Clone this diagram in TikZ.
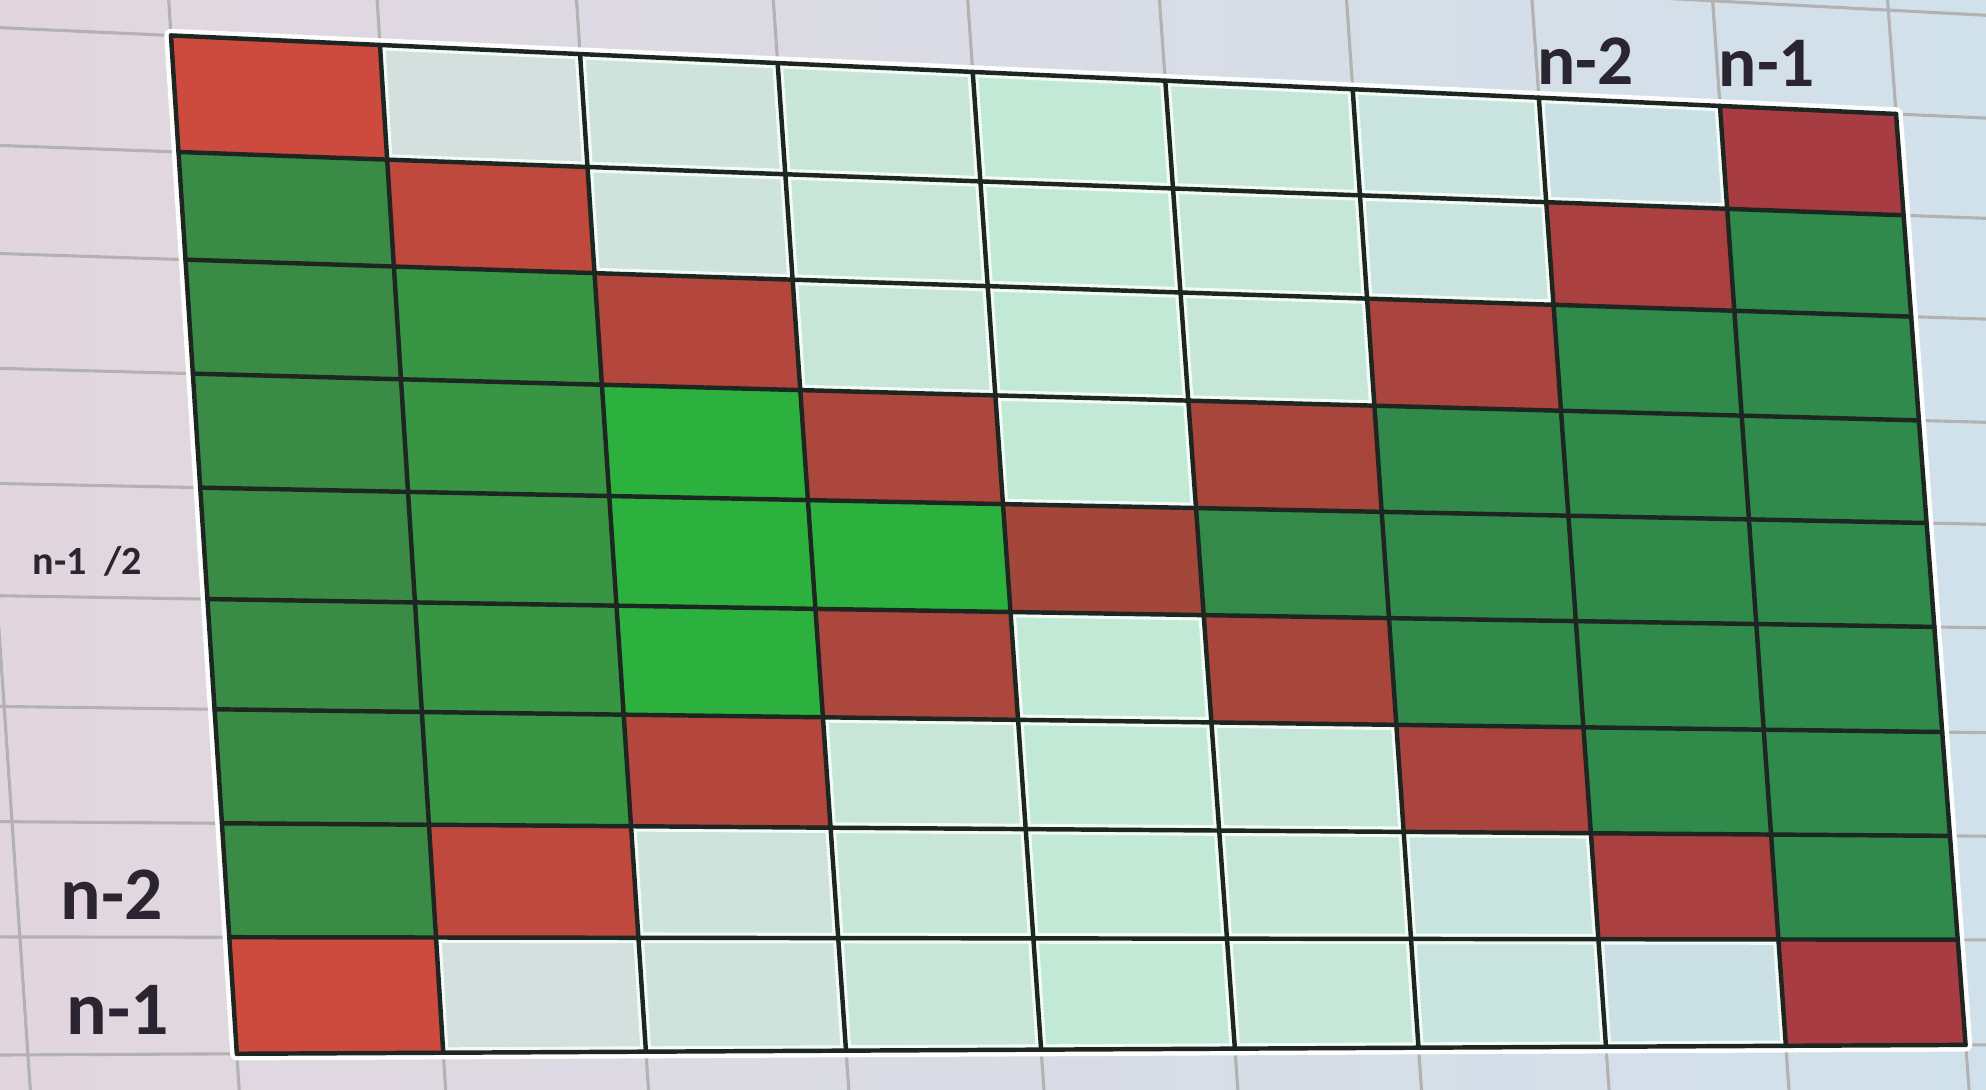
\documentclass[tikz,border=0pt]{standalone}
\usepackage{fontspec}
\setmainfont{Carlito}
\usetikzlibrary{calc}
\definecolor{rotl}{HTML}{CD4B3E}
\definecolor{rotm}{HTML}{A4473B}
\definecolor{rotr}{HTML}{A73D42}
\definecolor{gruenl}{HTML}{3A8B45}
\definecolor{gruenr}{HTML}{2F8A4B}
\definecolor{gruenh}{HTML}{2CB13E}
\definecolor{helll}{HTML}{DCDEDD}
\definecolor{hellm}{HTML}{C2E9D6}
\definecolor{hellr}{HTML}{CBDCEC}
\definecolor{grundl}{HTML}{E2D6DE}
\definecolor{grundm}{HTML}{D2ECE2}
\definecolor{grundr}{HTML}{D1E1EB}
\definecolor{linie}{HTML}{1E2622}
\definecolor{schrift}{HTML}{2A2530}
\tikzset{
  zelle0/.style 2 args={fill=hellr!#1!helll!#2!hellm},
  zelle1/.style 2 args={fill=rotr!#1!rotl!#2!rotm},
  zelle2/.style 2 args={fill=gruenr!#1!gruenl},
  zelle3/.style 2 args={fill=gruenh},
  zelle4/.style 2 args={fill=gruenh!25!gruenl},
  netz/.style={black!30,line width=0.7pt},
  gitter/.style={linie,line width=1pt,line cap=round},
  rand/.style={white,line width=3pt,line join=round},
  glanz/.style={white!80!hellm,line width=2.4pt},
  kopf/.style={schrift,font=\bfseries\fontsize{16}{16}\selectfont,inner sep=0pt},
  seite/.style={schrift,font=\bfseries\fontsize{17}{17}\selectfont,inner sep=0pt},
}
\newcommand\eckpunkt[2]{%
  \pgfcoordinate{p#1-#2}{\pgfpointintersectionoflines
    {\pgfpointanchor{ct#1}{center}}{\pgfpointanchor{cb#1}{center}}
    {\pgfpointanchor{rl#2}{center}}{\pgfpointanchor{rr#2}{center}}}}

\begin{document}
\begin{tikzpicture}[x=0.1mm,y=-0.1mm]
  \useasboundingbox (0,0) rectangle (1568,860);
  \shade[left color=grundl,middle color=grundm,right color=grundr] (0,0) rectangle (1568,860);
  % column and row lines of the sheet
  \foreach \i/\xt/\yt/\xb/\yb in {0/135/28/187/832, 1/300/35.5/350/831.2, 2/458/42.7/510/830.3,
      3/614/49.8/668/829.5, 4/768/56.8/822/828.7, 5/920/63.7/975/828, 6/1068/70.5/1120/827.2,
      7/1215/77.2/1268/826.5, 8/1358/83.7/1410/825.7, 9/1497/90/1552/825}{
    \coordinate (ct\i) at (\xt,\yt);
    \coordinate (cb\i) at (\xb,\yb);
  }
  \foreach \j/\xl/\yl/\xr/\yr in {0/135/28/1497/90, 1/141/120/1503/170, 2/146.4/205/1509/250,
      3/152.2/295/1515.1/332, 4/158/385/1521.2/413, 5/163.7/473/1527.3/495, 6/169.3/560/1533.5/578,
      7/175.1/650/1539.7/660, 8/180.9/740/1545.8/742, 9/187/832/1552/825}{
    \coordinate (rl\j) at (\xl,\yl);
    \coordinate (rr\j) at (\xr,\yr);
  }
  \coordinate (ctx) at (-33,26);  \coordinate (cbx) at (22,832);
  \coordinate (rlx) at (128,-64); \coordinate (rrx) at (1491,8);
  \begin{scope}
    \clip (0,0) rectangle (1568,860);
    \foreach \i in {x,0,1,2,3,4,5,6,7,8,9}
      \draw[netz] ($(ct\i)!-1!(cb\i)$) -- ($(ct\i)!2!(cb\i)$);
    \foreach \j in {x,0,1,2,3,4,5,6,7,8,9}
      \draw[netz] ($(rl\j)!-0.2!(rr\j)$) -- ($(rl\j)!1.2!(rr\j)$);
  \end{scope}
  % corners of the cells
  \foreach \i in {0,...,9}
    \foreach \j in {0,...,9}
      \eckpunkt{\i}{\j};
  \draw[rand] (p0-0) -- (p9-0) -- (p9-9) -- (p0-9) -- cycle;
  % 0 hell, 1 rot, 2 gruen, 3 hellgruen, 4 mittelgruen
  \foreach \zeile [count=\j from 0] in {{1,0,0,0,0,0,0,0,1},{2,1,0,0,0,0,0,1,2},
      {2,4,1,0,0,0,1,2,2},{2,4,3,1,0,1,2,2,2},{2,4,3,3,1,2,2,2,2},{2,4,3,1,0,1,2,2,2},
      {2,4,1,0,0,0,1,2,2},{2,1,0,0,0,0,0,1,2},{1,0,0,0,0,0,0,0,1}}{
    \foreach \k [count=\i from 0] in \zeile {
      \pgfmathtruncatemacro\ii{\i+1}
      \pgfmathtruncatemacro\jj{\j+1}
      \pgfmathtruncatemacro\p{\i*12.5}
      \pgfmathtruncatemacro\v{abs(2*\p-100)}
      \fill[zelle\k={\p}{\v}] (p\i-\j) -- (p\ii-\j) -- (p\ii-\jj) -- (p\i-\jj) -- cycle;
      \ifnum\k=0
        \begin{scope}
          \clip (p\i-\j) -- (p\ii-\j) -- (p\ii-\jj) -- (p\i-\jj) -- cycle;
          \draw[glanz] (p\i-\j) -- (p\ii-\j) -- (p\ii-\jj) -- (p\i-\jj) -- cycle;
        \end{scope}
      \fi
    }
  }
  \foreach \i in {0,...,9}
    \draw[gitter] (p\i-0) -- (p\i-9);
  \foreach \j in {0,...,9}
    \draw[gitter] (p0-\j) -- (p9-\j);
  \node[kopf] (spalte2) at (1252,48) {n-2};
  \node[kopf] (spalte1) at (1395,50) {n-1};
  \node[seite] (zeile2) at (88,706) {n-2};
  \node[seite] (zeile1) at (93,797) {n-1};
  \node[schrift,font=\bfseries\fontsize{9}{9}\selectfont,inner sep=0pt,anchor=west] (mitte) at (25,443) {n-1\ \ /2};
\end{tikzpicture}
\end{document}
